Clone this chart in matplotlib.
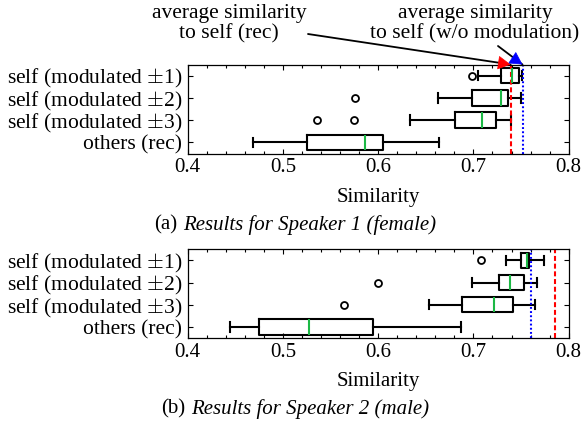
import matplotlib
matplotlib.use("Agg")
import matplotlib.pyplot as plt
from matplotlib.offsetbox import TextArea, HPacker, AnchoredOffsetbox
from matplotlib.ticker import MultipleLocator

plt.rcParams['font.family'] = ['Liberation Serif', 'DejaVu Serif']
plt.rcParams['font.size'] = 15
plt.rcParams['mathtext.fontset'] = 'cm'

categories = ["self (modulated $\\pm$1)", "self (modulated $\\pm$2)",
              "self (modulated $\\pm$3)", "others (rec)"]

# Speaker 1 (female)
s1_whislo = [0.705, 0.663, 0.633, 0.469]
s1_q1 = [0.729, 0.698, 0.681, 0.525]
s1_med = [0.740, 0.729, 0.709, 0.5865]
s1_q3 = [0.7475, 0.736, 0.724, 0.605]
s1_whishi = [0.751, 0.750, 0.739, 0.664]
s1_fliers = [[0.698], [0.576], [0.536, 0.575], []]
s1_self_rec = 0.739
s1_self_nomod = 0.7515

# Speaker 2 (male)
s2_whislo = [0.734, 0.698, 0.653, 0.444]
s2_q1 = [0.7497, 0.727, 0.688, 0.475]
s2_med = [0.756, 0.7387, 0.722, 0.5273]
s2_q3 = [0.7583, 0.7534, 0.742, 0.595]
s2_whishi = [0.774, 0.7664, 0.7646, 0.6873]
s2_fliers = [[0.708], [0.5995], [0.5644], []]
s2_self_rec = 0.786
s2_self_nomod = 0.7607

xlim = (0.4, 0.8)
xticks = [0.4, 0.5, 0.6, 0.7, 0.8]

W, H = 582, 421
fig = plt.figure(figsize=(W / 100, H / 100), dpi=100)

GREEN = '#1cb845'


def panel(rect, whislo, q1, med, q3, whishi, fliers, rec, nomod):
    ax = fig.add_axes(rect)
    stats = []
    for i in range(len(categories)):
        stats.append(dict(whislo=whislo[i], q1=q1[i], med=med[i], q3=q3[i],
                          whishi=whishi[i], fliers=fliers[i], label=categories[i]))
    positions = list(range(1, len(categories) + 1))
    ax.bxp(stats, positions=positions, vert=False, widths=0.7, capwidths=0.42,
           boxprops=dict(color='black', linewidth=1.5),
           whiskerprops=dict(color='black', linewidth=1.5),
           capprops=dict(color='black', linewidth=1.5),
           medianprops=dict(color=GREEN, linewidth=1.5),
           flierprops=dict(marker='o', markerfacecolor='none',
                           markeredgecolor='black', markersize=5,
                           markeredgewidth=1.3))
    ax.axvline(rec, color='#ff0000', linestyle=(0, (2.4, 1.3)), linewidth=1.5)
    ax.axvline(nomod, color='#0000ff', linestyle=(0, (0.9, 1.1)), linewidth=1.5)
    ax.set_xlim(*xlim)
    ax.set_ylim(len(categories) + 0.5, 0.5)
    ax.set_xticks(xticks)
    ax.set_xticklabels([f"{v:.1f}" for v in xticks])
    ax.xaxis.set_minor_locator(MultipleLocator(0.02))
    ax.set_yticks(positions)
    ax.set_yticklabels(categories)
    ax.tick_params(axis='both', which='both', direction='in', top=True,
                   right=True, width=0.8)
    ax.tick_params(axis='x', which='major', length=3.5, pad=3.5, labelsize=15)
    ax.tick_params(axis='x', which='minor', length=2.2)
    ax.tick_params(axis='y', which='major', length=3.5, pad=4, labelsize=15.5)
    for sp in ax.spines.values():
        sp.set_linewidth(0.9)
    ax.set_xlabel("Similarity", fontsize=15, labelpad=7.5)
    return ax


left = 187.7 / W
width = 381 / W
ax1 = panel([left, 1 - 153.5 / H, width, 89 / H],
            s1_whislo, s1_q1, s1_med, s1_q3, s1_whishi, s1_fliers,
            s1_self_rec, s1_self_nomod)
ax2 = panel([left, 1 - 338 / H, width, 88.7 / H],
            s2_whislo, s2_q1, s2_med, s2_q3, s2_whishi, s2_fliers,
            s2_self_rec, s2_self_nomod)


def caption(y_px, tag, text):
    box = HPacker(children=[TextArea(tag, textprops=dict(fontsize=15)),
                            TextArea(text, textprops=dict(fontsize=15, style='italic'))],
                  align="baseline", pad=0, sep=4)
    anch = AnchoredOffsetbox(loc='center', child=box,
                             bbox_to_anchor=(295 / W, 1 - y_px / H),
                             bbox_transform=fig.transFigure,
                             frameon=False, pad=0, borderpad=0)
    fig.add_artist(anch)


caption(225, "(a)", "Results for Speaker 1 (female)")
caption(409, "(b)", "Results for Speaker 2 (male)")

# annotations (top panel)
fig.text(229 / W, 1 - 4 / H, "average similarity\nto self (rec)", ha='center',
         va='top', fontsize=15.5, linespacing=1.08)
fig.text(475 / W, 1 - 4 / H, "average similarity\nto self (w/o modulation)",
         ha='center', va='top', fontsize=15.5, linespacing=1.08)

# black shafts
ax1.annotate("", xy=(s1_self_rec, 1), xycoords=('data', 'axes fraction'),
             xytext=(308, H - 34), textcoords='figure pixels',
             arrowprops=dict(arrowstyle='-', color='black', lw=1.3,
                             shrinkA=0, shrinkB=0))
ax1.annotate("", xy=(s1_self_nomod, 1), xycoords=('data', 'axes fraction'),
             xytext=(498, H - 46), textcoords='figure pixels',
             arrowprops=dict(arrowstyle='-', color='black', lw=1.3,
                             shrinkA=0, shrinkB=0))
# coloured heads
ax1.annotate("", xy=(s1_self_rec, 1), xycoords=('data', 'axes fraction'),
             xytext=(-10, 1.5), textcoords='offset pixels',
             arrowprops=dict(arrowstyle='-|>,head_length=0.55,head_width=0.3',
                             color='#ff0000', lw=0.5, shrinkA=0, shrinkB=0))
ax1.annotate("", xy=(s1_self_nomod, 1), xycoords=('data', 'axes fraction'),
             xytext=(-8.3, 5.5), textcoords='offset pixels',
             arrowprops=dict(arrowstyle='-|>,head_length=0.55,head_width=0.3',
                             color='#0000ff', lw=0.5, shrinkA=0, shrinkB=0))

fig.savefig("out.png", dpi=100)
